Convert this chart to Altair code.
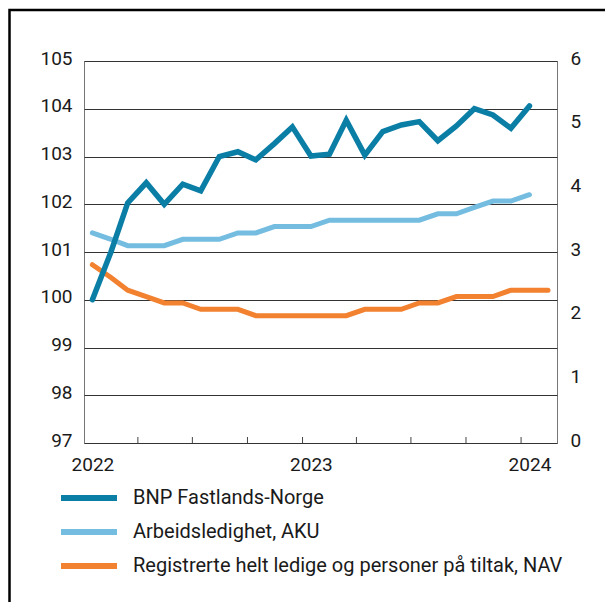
import altair as alt
import pandas as pd

# ---- data ----
series_names = ["BNP Fastlands-Norge", "Arbeidsledighet, AKU",
                "Registrerte helt ledige og personer på tiltak, NAV"]
series_colors = ["#0b7ea6", "#74bde0", "#f28130"]

# monthly, Jan 2022 .. Jan 2024 (left axis, index)
bnp = [100.0, 101.0, 102.03, 102.45, 102.0, 102.42, 102.28, 103.0, 103.1,
       102.93, 103.27, 103.62, 103.01, 103.05, 103.76, 103.03, 103.52,
       103.66, 103.73, 103.33, 103.64, 104.0, 103.87, 103.59, 104.06]
# monthly, Jan 2022 .. Jan 2024 (right axis, per cent)
aku = [3.3, 3.2, 3.1, 3.1, 3.1, 3.2, 3.2, 3.2, 3.3, 3.3, 3.4, 3.4, 3.4,
       3.5, 3.5, 3.5, 3.5, 3.5, 3.5, 3.6, 3.6, 3.7, 3.8, 3.8, 3.9]
# monthly, Jan 2022 .. Feb 2024 (right axis, per cent)
nav = [2.8, 2.6, 2.4, 2.3, 2.2, 2.2, 2.1, 2.1, 2.1, 2.0, 2.0, 2.0, 2.0,
       2.0, 2.0, 2.1, 2.1, 2.1, 2.2, 2.2, 2.3, 2.3, 2.3, 2.4, 2.4, 2.4]

quarter_ticks = ["2022-04-01", "2022-07-01", "2022-10-01", "2023-01-01",
                 "2023-04-01", "2023-07-01", "2023-10-01", "2024-01-01"]
year_labels = [2022, 2023, 2024]

months = pd.date_range("2022-01-01", periods=26, freq="MS") + pd.Timedelta(days=14)


def frame(vals, name):
    return pd.DataFrame({"date": [d.strftime("%Y-%m-%d") for d in months[:len(vals)]],
                         "value": vals, "serie": name})


left_df = frame(bnp, series_names[0])
right_df = pd.concat([frame(aku, series_names[1]), frame(nav, series_names[2])])
ticks_df = pd.DataFrame({"date": quarter_ticks})

FONT = "Roboto"
FS = 19

x_enc = alt.X(
    "date:T",
    scale=alt.Scale(type="utc",
                    domain=[alt.DateTime(year=2022, month=1, date=1, utc=True),
                            alt.DateTime(year=2024, month=3, date=1, utc=True)]),
    axis=alt.Axis(title=None, values=[alt.DateTime(year=y, month=1, date=15, utc=True)
                                      for y in year_labels],
                  labelExpr="utcFormat(datum.value, '%Y')", tickSize=0, domain=False,
                  grid=False, labelPadding=12, labelFontSize=FS, labelFont=FONT,
                  labelColor="#1a1a1a"),
)

color_enc = alt.Color(
    "serie:N",
    scale=alt.Scale(domain=series_names, range=series_colors),
    legend=alt.Legend(title=None, orient="none", legendX=-8, legendY=424,
                      direction="vertical", symbolType="M-2.8,0H2.8",
                      symbolSize=400, symbolStrokeWidth=6, labelOffset=31,
                      rowPadding=9, padding=0, labelFontSize=20, labelFont=FONT,
                      labelColor="#1a1a1a", labelLimit=600),
)

right_layer = alt.Chart(right_df).mark_line(strokeWidth=5, strokeCap="round",
                                            strokeJoin="miter").encode(
    x=x_enc,
    y=alt.Y("value:Q", scale=alt.Scale(domain=[0, 6]),
            axis=alt.Axis(title=None, orient="right", values=[0, 1, 2, 3, 4, 5, 6],
                          grid=False, tickSize=0, domain=False, labelPadding=13,
                          labelOffset=-3,
                          labelFontSize=FS, labelFont=FONT, labelColor="#1a1a1a")),
    color=color_enc,
)

left_layer = alt.Chart(left_df).mark_line(strokeWidth=5.5, strokeCap="round",
                                          strokeJoin="miter").encode(
    x=x_enc,
    y=alt.Y("value:Q", scale=alt.Scale(domain=[97, 105]),
            axis=alt.Axis(title=None, orient="left", values=list(range(97, 106)),
                          grid=True, gridColor="#333333", gridWidth=1, tickSize=0,
                          domain=False, labelPadding=12, labelOffset=-3,
                          labelFontSize=FS,
                          labelFont=FONT, labelColor="#1a1a1a")),
    color=color_enc,
)

tick_layer = alt.Chart(ticks_df).mark_rule(color="#444444", strokeWidth=1).encode(
    x=x_enc,
    y=alt.value(382), y2=alt.value(376),
)

border = alt.Chart(pd.DataFrame({"a": [0]})).mark_rect(
    fill=None, stroke="black", strokeWidth=2.5, clip=False).encode(
    x=alt.value(-74.5), y=alt.value(-51), x2=alt.value(800), y2=alt.value(800))

chart = alt.layer(tick_layer, right_layer, left_layer, border).resolve_scale(
    y="independent"
).properties(
    width=473, height=382,
    padding={"left": 76, "top": 53, "right": 48, "bottom": 159},
    autosize=alt.AutoSizeParams(type="none"),
).configure_view(stroke="#777777", strokeWidth=1)

chart.save("out.html", embed_options={"renderer": "svg", "actions": False})
